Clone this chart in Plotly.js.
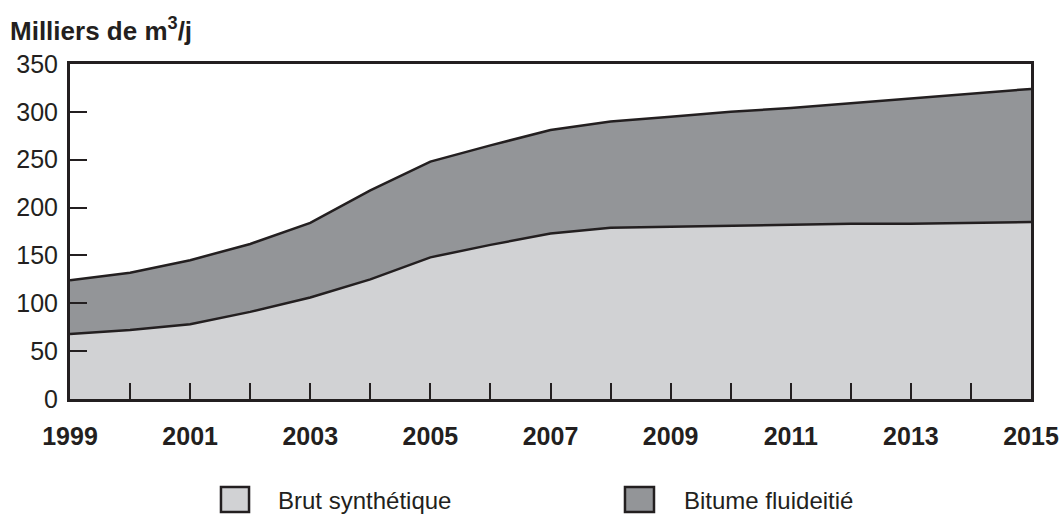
<!DOCTYPE html>
<html>
<head>
<meta charset="utf-8">
<script src="https://cdn.plot.ly/plotly-3.0.1.min.js"></script>
<style>html,body{margin:0;padding:0;background:#fff;}#chart{width:1064px;height:515px;}</style>
</head>
<body>
<div id="chart"></div>
<script>
const years = [1999,2000,2001,2002,2003,2004,2005,2006,2007,2008,2009,2010,2011,2012,2013,2014,2015];
const brutSynthetique = [68,72,78,91,106,125,148,161,173,179,180,181,182,183,183,184,185];
const bitumeFluidifie = [56,60,67,71,78,93,100,104,108,111,115,119,122,126,131,135,139];
const xTickVals = [1999,2001,2003,2005,2007,2009,2011,2013,2015];
const xTickText = ["1999","2001","2003","2005","2007","2009","2011","2013","2015"];
const yTickVals = [0,50,100,150,200,250,300,350];
const seriesNames = ["Brut synthétique","Bitume fluideitié"];
const titleText = "Milliers de m<sup>3</sup>/j";

const lightFill = "#d1d2d4", darkFill = "#939598", ink = "#231f20";
const fills = [lightFill, darkFill];
const font = "Liberation Sans, Arial, sans-serif";

const traces = [
  {x: years, y: brutSynthetique, type: "scatter", mode: "lines", stackgroup: "one", name: seriesNames[0],
   line: {color: ink, width: 2.5}, fillcolor: lightFill, showlegend: false, hoverinfo: "x+y"},
  {x: years, y: bitumeFluidifie, type: "scatter", mode: "lines", stackgroup: "one", name: seriesNames[1],
   line: {color: ink, width: 2.5}, fillcolor: darkFill, showlegend: false, hoverinfo: "x+y"}
];

// Custom legend (square swatches + labels) placed below the plot, in paper coordinates
const legendBoxX = [[0.1571, 0.1863], [0.5775, 0.6077]];
const legendTextX = [0.2144, 0.6368];
const shapes = [], annotations = [];
seriesNames.forEach((name, i) => {
  shapes.push({type: "rect", xref: "paper", yref: "paper",
               x0: legendBoxX[i][0], x1: legendBoxX[i][1], y0: -0.3373, y1: -0.2627,
               fillcolor: fills[i], line: {color: ink, width: 2.5}});
  annotations.push({xref: "paper", yref: "paper", x: legendTextX[i], y: -0.3015,
                    xanchor: "left", yanchor: "middle", showarrow: false, text: name,
                    font: {family: font, size: 24, color: ink}});
});

const layout = {
  width: 1064, height: 515,
  margin: {l: 70, r: 33, t: 64, b: 116},
  paper_bgcolor: "#fff", plot_bgcolor: "#fff",
  font: {family: font, color: ink},
  title: {text: titleText, x: 10/1064, xanchor: "left", xref: "container",
          y: 1 - 31/515, yanchor: "middle", yref: "container",
          font: {family: font, size: 26, weight: "bold", color: ink}},
  xaxis: {range: [1999, 2015], tickmode: "array", tickvals: xTickVals, ticktext: xTickText,
          ticks: "inside", ticklen: 16, tickwidth: 2, tickcolor: ink,
          minor: {tickmode: "linear", tick0: 1999, dtick: 1, ticks: "inside", ticklen: 16,
                  tickwidth: 2, tickcolor: ink, showgrid: false},
          showline: true, linewidth: 3, linecolor: ink, mirror: true,
          showgrid: false, zeroline: false, ticklabelstandoff: 13,
          tickfont: {family: font, size: 25, weight: "bold", color: ink}},
  yaxis: {range: [0, 350], tickmode: "array", tickvals: yTickVals,
          ticks: "inside", ticklen: 17, tickwidth: 2, tickcolor: ink,
          showline: true, linewidth: 3, linecolor: ink, mirror: true,
          showgrid: false, zeroline: false, ticklabelstandoff: 4,
          tickfont: {family: font, size: 25, color: ink}},
  shapes: shapes,
  annotations: annotations,
  showlegend: false
};

Plotly.newPlot("chart", traces, layout, {displayModeBar: false, staticPlot: true});
</script>
</body>
</html>
